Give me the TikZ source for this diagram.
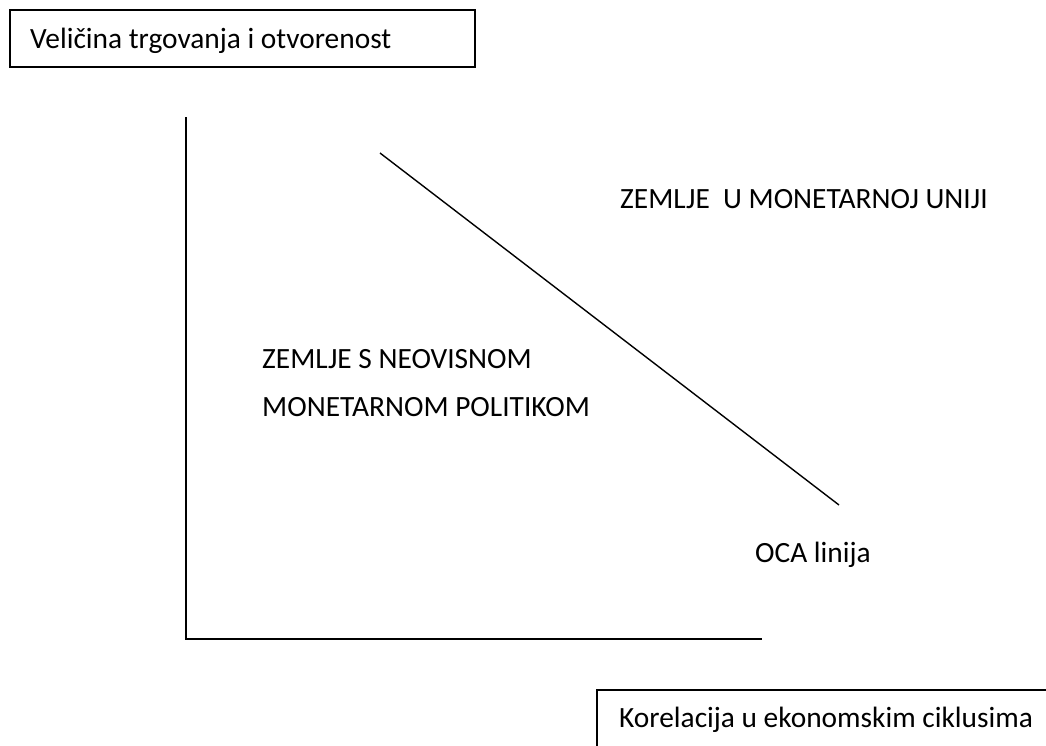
\documentclass[tikz,border=0pt]{standalone}
\usepackage{fontspec}
\setmainfont{Carlito}
\begin{document}
\begin{tikzpicture}[x=1bp,y=-1bp,
  lbl/.style={anchor=base west, inner sep=0pt, font=\fontsize{29.5}{35}\selectfont},
  frame/.style={draw=black, line width=1.6bp},
  axis/.style={draw=black, line width=1.6bp},
  oca/.style={draw=black, line width=1.4bp}]
\useasboundingbox (0,0) rectangle (1046,746);
% top box
\node[frame, anchor=north west, minimum width=465bp, minimum height=57bp, inner sep=0pt] (ybox) at (9,9) {};
\node[lbl] (ylabel) at (30,49) {Veličina trgovanja i otvorenost};
% axes
\coordinate (ytop) at (186,117);
\coordinate (origin) at (186,639);
\coordinate (xend) at (762,639);
\draw[axis] (ytop) -- (origin) -- (xend);
% OCA line
\coordinate (ocaA) at (380,153);
\coordinate (ocaB) at (839,505);
\draw[oca] (ocaA) -- (ocaB);
% region labels
\node[lbl] (mu) at (620,208) {ZEMLJE\ \ U MONETARNOJ UNIJI};
\node[lbl] (ind1) at (262,368) {ZEMLJE S NEOVISNOM};
\node[lbl] (ind2) at (262,416) {MONETARNOM POLITIKOM};
\node[lbl] (ocal) at (755,562) {OCA linija};
% bottom box (cut by picture edge)
\coordinate (bbTR) at (1046,690);
\coordinate (bbTL) at (597,690);
\coordinate (bbBL) at (597,746);
\draw[frame] (bbTR) -- (bbTL) -- (bbBL);
\node[lbl] (xlabel) at (619,727) {Korelacija u ekonomskim ciklusima};
\end{tikzpicture}
\end{document}
